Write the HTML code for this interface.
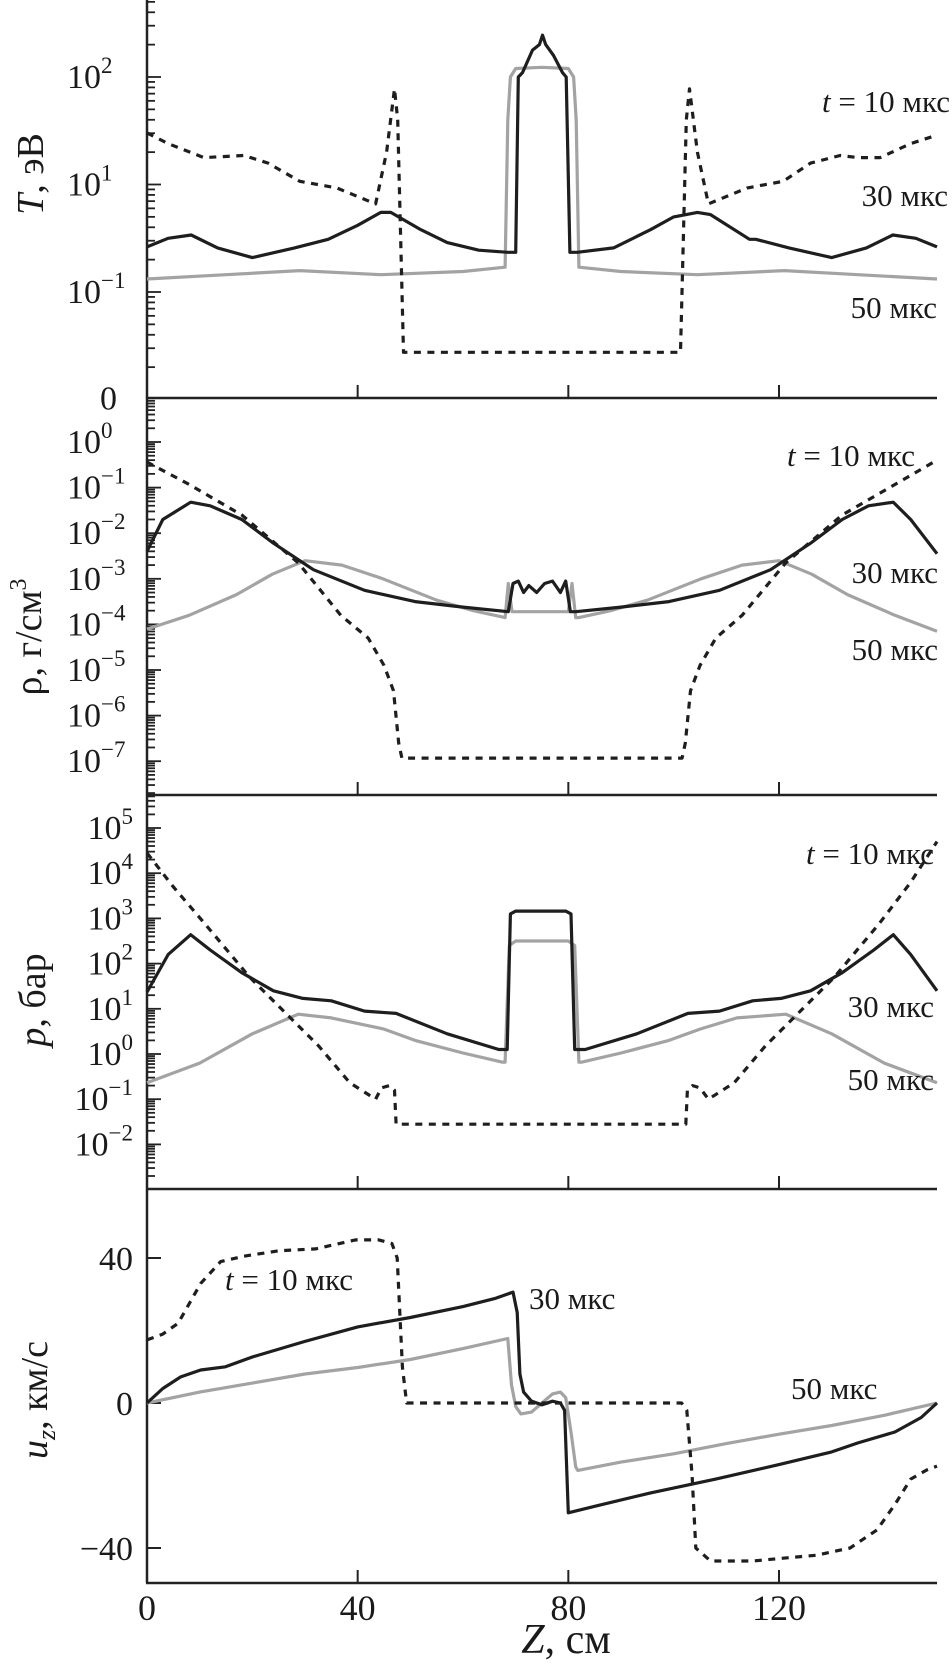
<!DOCTYPE html>
<html><head><meta charset="utf-8"><title>Profiles T, rho, p, u_z vs Z</title>
<style>
html,body{margin:0;padding:0;background:#fff;}
svg{display:block;font-family:"Liberation Serif","DejaVu Serif",serif;}
</style></head>
<body>
<svg id="chart" xmlns="http://www.w3.org/2000/svg" width="952" height="1667" viewBox="0 0 952 1667">
  <g font-size="38" fill="#1a1a1a">
    <text transform="translate(43,174) rotate(-90)" text-anchor="middle"><tspan font-style="italic">T</tspan>, эВ</text>
    <text transform="translate(41,637) rotate(-90)" text-anchor="middle">ρ, г/см<tspan font-size="24" dy="-15">3</tspan></text>
    <text transform="translate(45,1000) rotate(-90)" text-anchor="middle"><tspan font-style="italic">p</tspan>, бар</text>
    <text transform="translate(47,1400) rotate(-90)" text-anchor="middle"><tspan font-style="italic">u</tspan><tspan font-style="italic" font-size="26" dy="8">z</tspan><tspan dy="-8">, км/с</tspan></text>
  </g>
  <text x="566" y="1653" font-size="42" text-anchor="middle" fill="#1a1a1a"><tspan font-style="italic">Z</tspan>, см</text>
  <g id="axes"></g>
  <g id="series"></g>
  <g font-size="31" fill="#1a1a1a">
    <text x="950" y="112" text-anchor="end"><tspan font-style="italic">t</tspan> = 10 мкс</text>
    <text x="948" y="206" text-anchor="end">30 мкс</text>
    <text x="937" y="318" text-anchor="end">50 мкс</text>
    <text x="915" y="466" text-anchor="end"><tspan font-style="italic">t</tspan> = 10 мкс</text>
    <text x="938" y="583" text-anchor="end">30 мкс</text>
    <text x="938" y="660" text-anchor="end">50 мкс</text>
    <text x="934" y="864" text-anchor="end"><tspan font-style="italic">t</tspan> = 10 мкс</text>
    <text x="934" y="1017" text-anchor="end">30 мкс</text>
    <text x="934" y="1090" text-anchor="end">50 мкс</text>
    <text x="225" y="1290"><tspan font-style="italic">t</tspan> = 10 мкс</text>
    <text x="529" y="1309">30 мкс</text>
    <text x="791" y="1399">50 мкс</text>
  </g>
</svg>
<script>
// ---------- data ----------
const xTicks = [0, 40, 80, 120];
const xTickLabels = ["0", "40", "80", "120"];

// Panel 1: T (eV)
const T10_z = [0,4,10.8,18.4,23,29,36,43.4,45.5,47,47.6,48.7,101.3,102.4,103,104.5,106.6,114,120.8,126,131.6,135,139.2,145,150];
const T10_v = [30.2,24,17.8,18.6,15.8,10.7,9.3,6.6,20,77.6,39.8,0.275,0.275,39.8,77.6,20,6.6,9.3,10.7,15.8,18.6,17.8,17.8,24,28.8];
const T30_z = [0,4,8.4,13.4,20,28,34.4,40,44.4,46.3,52,57,63,68.5,70,70.5,71.3,73.2,74.5,75.1,75.7,77.2,78.9,79.6,80.3,81.7,88.6,95.6,100,104.5,107,114.4,115.6,121.9,130,136.6,141.6,146,150];
const T30_v = [2.63,3.16,3.39,2.57,2.09,2.57,3.09,4.17,5.5,5.5,3.8,2.88,2.45,2.34,2.34,100,110,178,200,245,200,158,110,100,2.34,2.34,2.57,3.8,5.0,5.5,5.25,3.09,3.09,2.57,2.09,2.57,3.39,3.16,2.63];
const T50_z = [0,15,29,44.4,60,68,68.5,69,70,75,80,81,81.5,82,90,104.5,121,135,150];
const T50_v = [1.32,1.45,1.58,1.45,1.55,1.7,39.8,100,120,123,120,100,39.8,1.7,1.55,1.45,1.58,1.45,1.32];
const T_tickVals = [100, 10, 1, 0.1];
const T_tickLabels = [["10","2"],["10","1"],["10","−1"],["0",""]];

// Panel 2: rho (g/cm^3)
const R10_z = [0,7.5,18,28.7,36.8,42,45,46.8,47.8,48.4,101.6,102.2,103.2,105,108,113,121.3,132,142.5,150];
const R10_v = [0.363,0.126,0.0251,2.24e-3,1.58e-4,5.0e-5,1.26e-5,3.5e-6,2.5e-7,1.17e-7,1.17e-7,2.5e-7,3.5e-6,1.26e-5,5.0e-5,1.58e-4,2.24e-3,0.0251,0.126,0.4];
const R30_z = [0,3,8.3,12,18,23.8,31.6,41.3,50.9,60,68.6,69.5,70.5,71.5,72.5,74,75.5,77,78.5,79.5,80.4,81.4,90,99.1,108.7,118.4,126.2,132,137,141.7,145,150];
const R30_v = [3.98e-3,0.02,0.0479,0.0398,0.02,6.3e-3,1.58e-3,5.6e-4,3.16e-4,2.4e-4,1.9e-4,7.9e-4,8.9e-4,5.0e-4,7.1e-4,5.0e-4,7.9e-4,8.9e-4,5.0e-4,8.9e-4,1.9e-4,1.9e-4,2.4e-4,3.16e-4,5.6e-4,1.58e-3,6.3e-3,0.02,0.0398,0.0479,0.02,3.55e-3];
const R50_z = [0,8,17,23.8,30,37,44.8,55,62,68,68.6,69.3,70,80,80.7,81.4,82,88,95,105.2,113,120,126.2,133,142,150];
const R50_v = [7.9e-5,1.58e-4,4.5e-4,1.26e-3,2.5e-3,2.0e-3,1e-3,3.4e-4,2.0e-4,1.41e-4,7.9e-4,1.9e-4,1.9e-4,1.9e-4,7.9e-4,1.41e-4,1.41e-4,2.0e-4,3.4e-4,1e-3,2.0e-3,2.5e-3,1.26e-3,4.5e-4,1.58e-4,7.1e-5];
const R_tickVals = [1,0.1,0.01,1e-3,1e-4,1e-5,1e-6,1e-7];
const R_tickLabels = [["10","0"],["10","−1"],["10","−2"],["10","−3"],["10","−4"],["10","−5"],["10","−6"],["10","−7"]];

// Panel 3: p (bar)
const P10_z = [0,5,11,19.5,25.5,32.6,38.5,43.4,44.5,46,47,47.3,102.3,102.6,103.6,105,106.6,111.5,117.4,124.5,130.5,139,145,150];
const P10_v = [2.8e4,5e3,760,50,10,1.5,0.23,0.1,0.178,0.2,0.158,0.028,0.028,0.158,0.2,0.178,0.1,0.23,1.5,10,50,760,6.3e3,5e4];
const P30_z = [0,4,8.3,12,18,24,29.6,35,41.3,47.3,57,66.8,68.4,69,70,79.5,80.5,81.2,83.2,93,102.7,108.7,115,120.4,126,132,138,141.7,145,150];
const P30_v = [23.4,158,437,200,63,25,17,15,8.9,7.9,2.8,1.26,1.26,1260,1450,1450,1260,1.26,1.26,2.8,7.9,8.9,15,17,25,63,200,437,158,25];
const P50_z = [0,10,20,28.7,35,45,50.9,60,67.5,68,68.8,70,80,81.2,82,82.5,90,99.1,105,112,121.3,130,140,150];
const P50_v = [0.23,0.63,2.8,7.6,6.3,3.55,2.0,1.05,0.66,0.66,251,316,316,251,0.66,0.66,1.05,2.0,3.55,6.3,7.6,2.8,0.63,0.23];
const P_tickVals = [1e5,1e4,1e3,100,10,1,0.1,0.01];
const P_tickLabels = [["10","5"],["10","4"],["10","3"],["10","2"],["10","1"],["10","0"],["10","−1"],["10","−2"]];

// Panel 4: u_z (km/s)
const U10_z = [0,3,5.9,10.2,14,18.4,25,32,39.6,44,46.5,47.5,48.5,49.3,101.5,102.5,103.5,104.2,107,115,120.8,127,133.5,138.6,142,145,148,150];
const U10_v = [17.4,19,22,33,39,40.5,42,42.5,45,45,44,40,10,0,0,-2,-20,-40,-43.6,-43.6,-42.8,-42,-40,-35,-28,-21,-18.5,-17.4];
const U30_z = [0,3,6.4,10.2,14.9,20,30,40,50,60,66,69.5,70.3,70.8,71.5,73,75,77,78.5,79.3,80,85,95.6,108,120,130,135,142,147,150];
const U30_v = [0,4,7.2,9.1,10,12.7,17,21,23.6,26.6,28.8,30.6,25,8,3,0.5,-0.5,0.5,0,-2,-30.3,-28.5,-24.8,-21,-17,-13.5,-11,-8,-4,0];
const U50_z = [0,10,20,30,40,50,60,68.5,69.2,70,71,73,75,77,78.5,79.5,80.5,81.4,81.8,90,100,110,120,130,140,150];
const U50_v = [0,3,5.5,8,9.8,12,15,17.8,5,-1,-3,-2.5,0,2.5,3,1.5,-8,-17.6,-18.6,-16.3,-14,-11.2,-8.6,-6.2,-3.4,0];
const U_tickVals = [40, 0, -40];
const U_tickLabels = ["40", "0", "−40"];

// ---------- layout ----------
const NS = "http://www.w3.org/2000/svg";
const X0 = 147, X1 = 937, ZMAX = 150;
function xs(z){ return X0 + z * (X1 - X0) / ZMAX; }
function logScale(refVal, refY, decadePx){ return v => refY - decadePx * (Math.log10(v) - Math.log10(refVal)); }
const yT = logScale(1, 292, 107.5);
const yR = logScale(1, 442, 45.6);
const yP = logScale(1, 1054, 45.2);
function yU(u){ return 1403 - u * 145 / 40; }

const panels = [
  {name:"temperature", top:0, bottom:398, y:yT, log:true, lo:0.1, hi:500},
  {name:"density", top:398, bottom:795, y:yR, log:true, lo:2.2e-8, hi:10},
  {name:"pressure", top:795, bottom:1189, y:yP, log:true, lo:1.2e-3, hi:6e5},
  {name:"velocity", top:1189, bottom:1583, y:yU, log:false}
];

const axes = document.getElementById("axes");
const seriesG = document.getElementById("series");
function mk(tag, attrs, parent){
  const e = document.createElementNS(NS, tag);
  for (const k in attrs) e.setAttribute(k, attrs[k]);
  parent.appendChild(e);
  return e;
}

panels.forEach(p => {
  const g = mk("g", {}, axes);
  
  
  const yl = mk("line", {x1:X0, y1:p.top, x2:X0, y2:p.bottom, stroke:"#222", "stroke-width":2.5}, g);
  
  
  const xl = mk("line", {x1:X0-1, y1:p.bottom, x2:X1, y2:p.bottom, stroke:"#222", "stroke-width":2.5}, g);
  
  
  xTicks.forEach(t => {
    if (t === 0) return;
    const tk = mk("line", {x1:xs(t), y1:p.bottom, x2:xs(t), y2:p.bottom-13, stroke:"#222", "stroke-width":2}, g);
    
    
  });
  if (p.log){
    const d0 = Math.floor(Math.log10(p.lo)), d1 = Math.ceil(Math.log10(p.hi));
    for (let d = d0; d <= d1; d++){
      for (let m = 1; m <= 9; m++){
        const v = m * Math.pow(10, d);
        const yy = p.y(v);
        if (yy < p.top + 1 || yy > p.bottom - 1) continue;
        const len = (m === 1) ? 14 : 8;
        const tk = mk("line", {x1:X0, y1:yy, x2:X0+len, y2:yy, stroke:"#222", "stroke-width":1.8}, g);
        
        
      }
    }
  } else {
    U_tickVals.forEach(v => {
      const tk = mk("line", {x1:X0, y1:p.y(v), x2:X0+14, y2:p.y(v), stroke:"#222", "stroke-width":2}, g);
      
      
    });
  }
});

// Y tick labels
function supLabel(x, y, base, exp, anchor, name){
  const t = mk("text", {x:x, y:y + 11, "font-size":34, fill:"#1a1a1a", "text-anchor":anchor}, axes);
  
  
  const b = document.createElementNS(NS, "tspan");
  b.textContent = base;
  t.appendChild(b);
  if (exp){
    const s = document.createElementNS(NS, "tspan");
    s.setAttribute("font-size", "23");
    s.setAttribute("dy", "-15");
    s.textContent = exp;
    t.appendChild(s);
  }
  return t;
}
T_tickVals.forEach((v, i) => {
  const lb = T_tickLabels[i];
  if (lb[1] === "") supLabel(117, yT(v) - 1, lb[0], "", "end", "temperature-tick-label");
  else supLabel(67, yT(v), lb[0], lb[1], "start", "temperature-tick-label");
});
R_tickVals.forEach((v, i) => {
  supLabel(67, yR(v), R_tickLabels[i][0], R_tickLabels[i][1], "start", "density-tick-label");
});
P_tickVals.forEach((v, i) => {
  supLabel(133, yP(v), P_tickLabels[i][0], P_tickLabels[i][1], "end", "pressure-tick-label");
});
U_tickVals.forEach((v, i) => {
  const t = mk("text", {x:133, y:yU(v) + 12, "font-size":34, fill:"#1a1a1a", "text-anchor":"end"}, axes);
  
  
  t.textContent = U_tickLabels[i];
});
xTicks.forEach((v, i) => {
  const t = mk("text", {x:xs(v), y:1620, "font-size":36, fill:"#1a1a1a", "text-anchor":"middle"}, axes);
  
  
  t.textContent = xTickLabels[i];
});

// Series
const styles = {
  t10: {stroke:"#1e1e1e", "stroke-width":3.2, "stroke-dasharray":"7 6.5"},
  t30: {stroke:"#1e1e1e", "stroke-width":3.2},
  t50: {stroke:"#a3a3a3", "stroke-width":3.2}
};
function drawSeries(zs, vs, yfn, style, name){
  let d = "";
  for (let i = 0; i < zs.length; i++){
    d += (i ? "L" : "M") + xs(zs[i]).toFixed(1) + "," + yfn(vs[i]).toFixed(1);
  }
  const attrs = {d:d, fill:"none", "stroke-linejoin":"round", "stroke-linecap":"butt"};
  for (const k in styles[style]) attrs[k] = styles[style][k];
  const path = mk("path", attrs, seriesG);
  
  
}
drawSeries(T50_z, T50_v, yT, "t50", "temperature-50us-line");
drawSeries(T30_z, T30_v, yT, "t30", "temperature-30us-line");
drawSeries(T10_z, T10_v, yT, "t10", "temperature-10us-line");
drawSeries(R50_z, R50_v, yR, "t50", "density-50us-line");
drawSeries(R30_z, R30_v, yR, "t30", "density-30us-line");
drawSeries(R10_z, R10_v, yR, "t10", "density-10us-line");
drawSeries(P50_z, P50_v, yP, "t50", "pressure-50us-line");
drawSeries(P30_z, P30_v, yP, "t30", "pressure-30us-line");
drawSeries(P10_z, P10_v, yP, "t10", "pressure-10us-line");
drawSeries(U50_z, U50_v, yU, "t50", "velocity-50us-line");
drawSeries(U30_z, U30_v, yU, "t30", "velocity-30us-line");
drawSeries(U10_z, U10_v, yU, "t10", "velocity-10us-line");
</script>
</body></html>
